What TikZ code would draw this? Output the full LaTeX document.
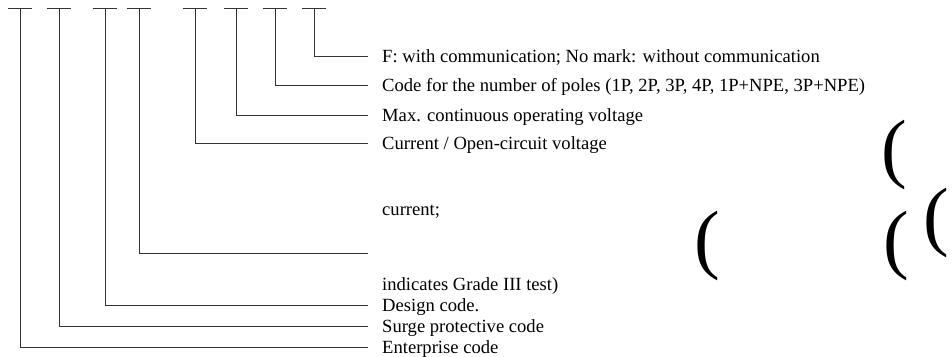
\documentclass[tikz,border=0pt]{standalone}
\usepackage{fontspec}
\setmainfont{Liberation Serif}
\begin{document}
\begin{tikzpicture}[x=1pt,y=-1pt,
    lbl/.style={anchor=base west,inner sep=0pt,font=\fontsize{18.6}{22}\selectfont},
    paren/.style={anchor=base west,inner sep=0pt,font=\fontsize{77}{80}\selectfont},
    lead/.style={line width=0.8pt,black!80}]
  \useasboundingbox (0,0) rectangle (952,356);
  % tops of the code positions
  \coordinate (ta) at (20,8);
  \coordinate (tb) at (59,8);
  \coordinate (tc) at (105,8);
  \coordinate (td) at (139,8);
  \coordinate (te) at (195,8);
  \coordinate (tf) at (236,8);
  \coordinate (tg) at (275,8);
  \coordinate (th) at (314,8);
  % right ends of the leaders
  \coordinate (ea) at (368,347);
  \coordinate (eb) at (368,326);
  \coordinate (ec) at (368,305);
  \coordinate (ed) at (368,253);
  \coordinate (ee) at (368,143);
  \coordinate (ef) at (368,115);
  \coordinate (eg) at (368,85);
  \coordinate (eh) at (368,56);
  % labels
  \node[lbl] (la) at (382,353) {Enterprise code};
  \node[lbl] (lb) at (382,332) {Surge protective code};
  \node[lbl] (lc) at (382,311) {Design code.};
  \node[lbl] (ld1) at (382,215) {current;};
  \node[lbl] (ld2) at (382,290) {indicates Grade III test)};
  \node[lbl] (le) at (382,149) {Current / Open-circuit voltage};
  \node[lbl] (lf) at (382,121) {Max. continuous operating voltage};
  \node[lbl] (lg) at (382,91) {Code for the number of poles (1P, 2P, 3P, 4P, 1P+NPE, 3P+NPE)};
  \node[lbl] (lh) at (382,62) {F: with communication; No mark: without communication};
  % leaders
  \foreach \k in {a,b,c,d,e,f,g,h}{
    \draw[lead] ([xshift=-12pt]t\k) -- ([xshift=12pt]t\k);
    \draw[lead] (t\k) |- (e\k);
  }
  % brackets
  \node[paren] (pa) at (694,264) {(};
  \node[paren] (pb) at (881,173) {(};
  \node[paren] (pc) at (883,264) {(};
  \node[paren] (pd) at (923,241) {(};
\end{tikzpicture}
\end{document}
